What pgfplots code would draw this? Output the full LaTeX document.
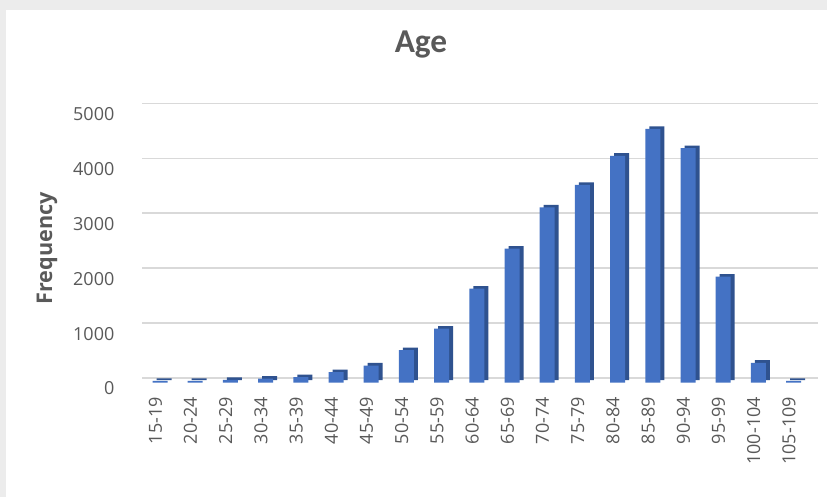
\documentclass[border=0pt]{standalone}
\usepackage{pgfplots}
\pgfplotsset{compat=1.18}
\usepackage{fontspec}
\setmainfont{Open Sans}
\newfontfamily\titlefont{Carlito}
\definecolor{txt}{HTML}{595959}
\definecolor{barfront}{HTML}{4472C4}
\definecolor{barside}{HTML}{2F528F}
\definecolor{gridc}{HTML}{D9D9D9}

\begin{document}
\begin{tikzpicture}
% frame of the chart (1 px of the reference = 0.75pt)
\fill[gray!15] (0,0) rectangle (620.25pt,372.75pt);
\fill[white] (4.5pt,0) rectangle (620.25pt,365.25pt);

\node[font=\titlefont\bfseries\fontsize{25}{30}\selectfont, text=txt] at (315.75pt,339pt) {Age};

\begin{axis}[
  at={(106.8pt,89.25pt)}, anchor=south west,
  scale only axis,
  width=506.9pt, height=205.9pt,
  xmin=-0.5, xmax=18.7,
  ymin=0, ymax=5000,
  ybar, bar width=11.25pt,
  axis line style={draw=none},
  major tick style={draw=none},
  ymajorgrids,
  major grid style={draw=gridc, line width=1.3pt},
  ytick={0,1000,2000,3000,4000,5000},
  scaled y ticks=false,
  /pgf/number format/1000 sep={},
  xtick={0,...,18},
  xticklabels={15-19,20-24,25-29,30-34,35-39,40-44,45-49,50-54,55-59,60-64,65-69,70-74,75-79,80-84,85-89,90-94,95-99,100-104,105-109},
  /pgf/number format/assume math mode=true,
  tick label style={font=\fontsize{13.5}{16}\selectfont, text=txt},
  xticklabel style={xshift=-3.5pt, yshift=-6.5pt, rotate=90, anchor=east},
  yticklabel style={xshift=-17.5pt, yshift=-7.9pt},
  ylabel={Frequency},
  ylabel style={at={(axis description cs:-0.141,0.472)}, anchor=center,
    font=\bfseries\fontsize{16.2}{19}\selectfont, text=txt},
  clip=false,
]
% darker copy behind each bar gives the side and top of the 3-D column
\addplot[fill=barside, draw=none, bar shift=0pt, xshift=3pt, yshift=-1.5pt] coordinates {
(0,30) (1,30) (2,50) (3,70) (4,100) (5,190) (6,310) (7,590) (8,980) (9,1710)
(10,2440) (11,3190) (12,3600) (13,4130) (14,4620) (15,4270) (16,1930) (17,360) (18,30)};
\addplot[fill=barfront, draw=none, bar shift=0pt, yshift=-3.4pt] coordinates {
(0,30) (1,30) (2,50) (3,70) (4,100) (5,190) (6,310) (7,590) (8,980) (9,1710)
(10,2440) (11,3190) (12,3600) (13,4130) (14,4620) (15,4270) (16,1930) (17,360) (18,30)};
\end{axis}
\end{tikzpicture}
\end{document}
